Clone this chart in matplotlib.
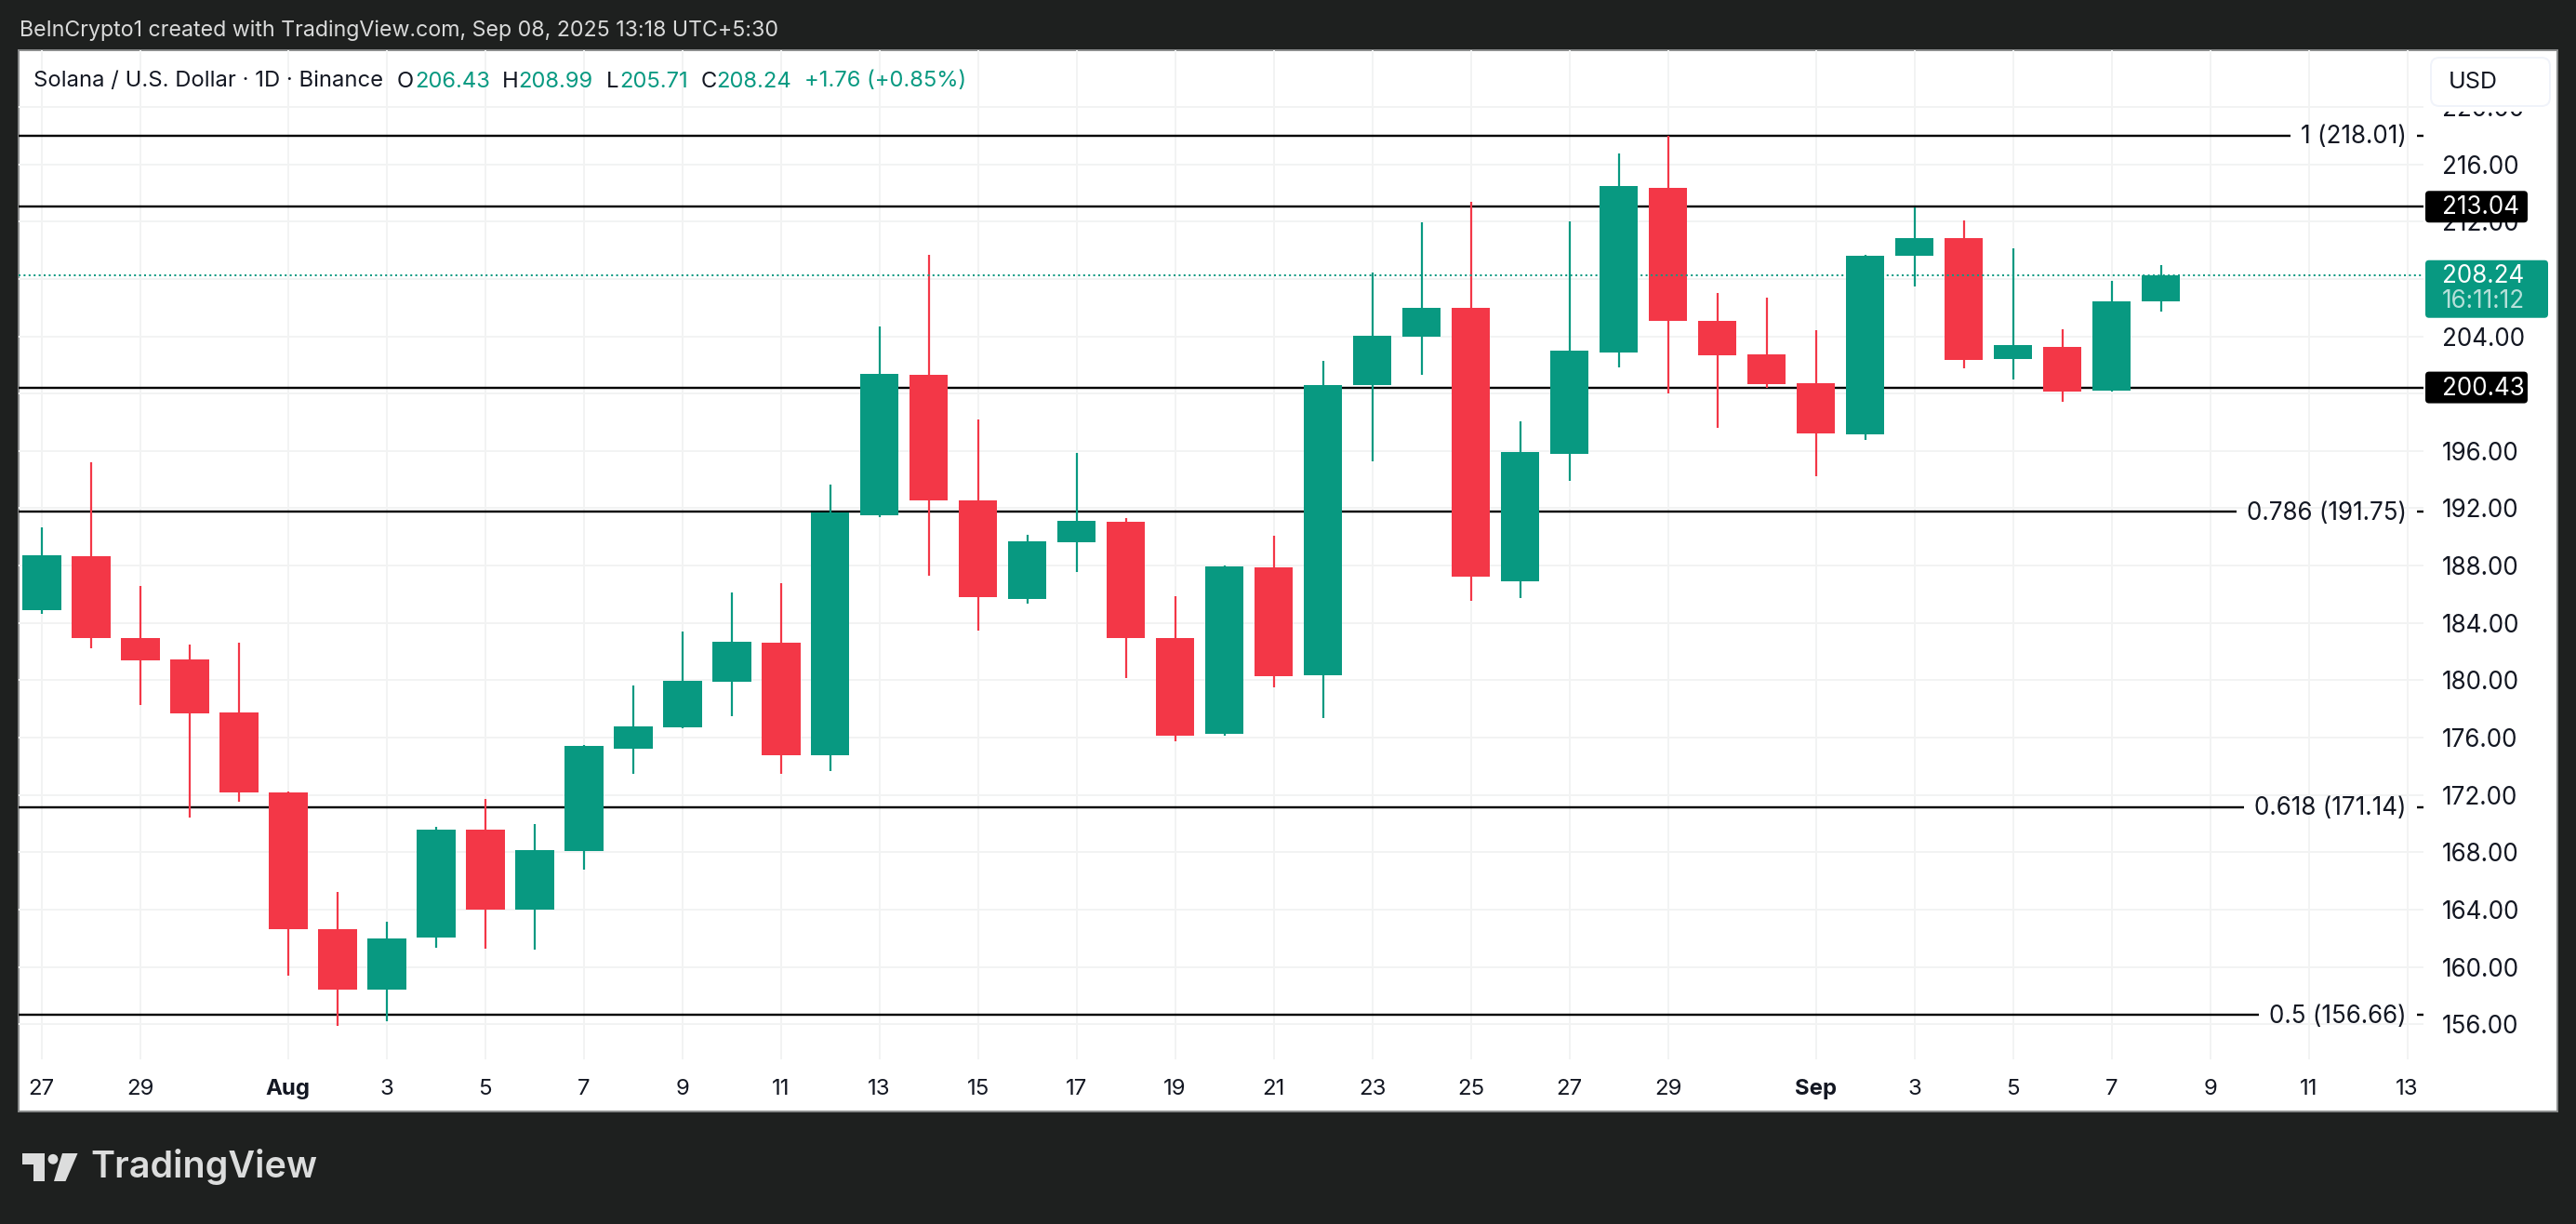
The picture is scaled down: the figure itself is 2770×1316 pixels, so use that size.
import matplotlib
matplotlib.use("Agg")
import matplotlib.pyplot as plt
import matplotlib.dates as mdates
from matplotlib.patches import Rectangle, FancyBboxPatch, Polygon, Circle
import pandas as pd

plt.rcParams['font.family'] = ['Inter', 'DejaVu Sans']

# ---------- data ----------
start_date = '2025-07-27'
opens  = [184.90,188.67,182.96,181.46,177.75,172.18,162.64,158.42,162.05,169.59,163.99,168.10,175.22,176.71,179.89,182.62,
          174.78,191.51,201.30,192.56,185.67,189.63,191.06,182.96,176.26,187.88,180.35,200.60,203.97,205.99,186.91,195.81,
          202.88,214.35,205.08,202.74,200.72,197.15,209.62,210.85,202.41,203.27,200.21,206.43]
highs  = [190.67,195.23,186.59,182.51,182.62,172.23,165.23,163.17,169.79,171.73,169.98,175.50,179.64,183.41,186.14,186.78,
          193.66,204.69,209.67,198.21,190.14,195.87,191.32,185.86,188.00,190.09,202.27,208.43,211.96,213.41,198.08,212.03,
          216.76,217.99,207.03,206.70,204.43,209.69,213.00,212.08,210.13,204.50,207.86,208.99]
lows   = [184.64,182.22,178.28,170.43,171.53,159.40,155.88,156.22,161.34,161.29,161.20,166.80,173.47,176.65,177.50,173.47,
          173.67,191.40,187.29,183.47,185.35,187.56,180.16,175.75,176.12,179.51,177.36,195.28,201.30,185.54,185.73,193.91,
          201.84,200.03,197.62,200.40,194.25,196.78,207.49,201.76,201.00,199.42,200.14,205.71]
closes = [188.73,182.96,181.38,177.69,172.18,162.64,158.42,161.99,169.59,163.99,168.15,175.42,176.79,179.97,182.70,174.80,
          191.70,201.39,192.56,185.81,189.68,191.14,182.96,176.12,187.93,180.29,200.60,204.05,205.99,187.24,195.92,202.99,
          214.49,205.08,202.67,200.68,197.22,209.62,210.85,202.34,203.39,200.14,206.45,208.24]

price_ticks = [156,160,164,168,172,176,180,184,188,192,196,200,204,208,212,216,220]
hidden_price_labels = [200, 208]   # covered by the price tags in the reference
time_tick_dates = ['2025-07-27','2025-07-29','2025-08-01','2025-08-03','2025-08-05','2025-08-07','2025-08-09',
                   '2025-08-11','2025-08-13','2025-08-15','2025-08-17','2025-08-19','2025-08-21','2025-08-23',
                   '2025-08-25','2025-08-27','2025-08-29','2025-09-01','2025-09-03','2025-09-05','2025-09-07',
                   '2025-09-09','2025-09-11','2025-09-13']
time_tick_labels = ['27','29','Aug','3','5','7','9','11','13','15','17','19','21','23','25','27','29','Sep','3','5','7','9','11','13']
bold_labels = ['Aug','Sep']

plain_levels = [213.04, 200.43]
fib_levels = [218.01, 191.75, 171.14, 156.66]
fib_labels = ['1 (218.01)', '0.786 (191.75)', '0.618 (171.14)', '0.5 (156.66)']
last_price = 208.24
countdown = '16:11:12'

# ---------- colours ----------
UP, DOWN = '#089981', '#F33747'
BG, GRID, INK = '#1E201F', '#F2F3F3', '#131722'

W, H = 2770, 1316
fig = plt.figure(figsize=(W/100, H/100), dpi=100, facecolor=BG)
PX = 0.72  # points per pixel
SCALE_FS = 26*PX

def px_axes(z):
    a = fig.add_axes([0, 0, 1, 1], zorder=z)
    a.set_xlim(0, W); a.set_ylim(H, 0); a.axis('off'); a.patch.set_alpha(0)
    return a

under = px_axes(-1)
over = px_axes(1)
under.add_patch(Rectangle((20, 54), 2730, 1141, fc='white', ec='#8A8C8C', lw=1.4))

# main chart pane
L, R, T, B = 20, 2606, 54, 1139
ax = fig.add_axes([L/W, 1-B/H, (R-L)/W, (B-T)/H], zorder=0)
ax.patch.set_alpha(0)
for s in ax.spines.values():
    s.set_visible(False)

x = mdates.date2num(pd.date_range(start_date, periods=len(opens)))
x0 = x[0]
ax.set_xlim(x0 - 0.464, x0 + 48.33)
ax.set_ylim(153.55, 223.96)

ax.set_axisbelow(True)
ax.grid(True, color=GRID, lw=2*PX)
ax.yaxis.tick_right()
ax.set_yticks(price_ticks)
ax.set_yticklabels(['' if p in hidden_price_labels else f'{p:.2f}' for p in price_ticks])
ax.set_xticks(mdates.date2num(pd.to_datetime(time_tick_dates)))
ax.set_xticklabels(time_tick_labels)
ax.tick_params(axis='both', length=0, labelcolor=INK)
ax.tick_params(axis='y', pad=19.5*PX, labelsize=SCALE_FS)
ax.tick_params(axis='x', pad=21*PX, labelsize=24*PX)
for lab in ax.get_xticklabels():
    if lab.get_text() in bold_labels:
        lab.set_fontweight('bold')

# horizontal levels
xmin, xmax = ax.get_xlim()
ax.hlines(plain_levels, xmin, xmax, color='black', lw=2.4*PX, zorder=2)
renderer = fig.canvas.get_renderer()
label_x = x0 + 47.99
for lev, lab in zip(fib_levels, fib_labels):
    t = ax.text(label_x, lev - 0.1, lab, ha='right', va='center', fontsize=SCALE_FS, color=INK, zorder=3)
    bb = t.get_window_extent(renderer)
    inv = ax.transData.inverted()
    left = inv.transform((bb.x0 - 11, 0))[0]
    right = inv.transform((bb.x1 + 11, 0))[0]
    ax.hlines(lev, xmin, left, color='black', lw=2.4*PX, zorder=2)
    ax.hlines(lev, right, xmax, color='black', lw=2.4*PX, zorder=2)

# candles
for xi, o, h, l, c in zip(x, opens, highs, lows, closes):
    col = UP if c >= o else DOWN
    ax.vlines(xi, l, h, color=col, lw=2.2*PX, zorder=4)
    ax.bar(xi, abs(c-o), bottom=min(o, c), width=0.79, color=col, lw=0, zorder=4)

ax.hlines(last_price, xmin, xmax, color=UP, lw=2*PX, linestyles=(0, (1, 1.7)), zorder=5)

# pixel y of a price
def py(p):
    return H - ax.transData.transform((x0, p))[1]

# price labels on the scale
def box(x1, y1, x2, y2, col):
    over.add_patch(FancyBboxPatch((x1, y1), x2-x1, y2-y1, boxstyle='round,pad=0,rounding_size=4',
                                  fc=col, ec='none', mutation_aspect=1))

for lev in plain_levels:
    y = py(lev)
    box(2608, y-17, 2718, y+17, 'black')
    over.text(2625.7, y+1, f'{lev:.2f}', color='white', fontsize=SCALE_FS, va='center', ha='left')

y = py(last_price)
box(2608, y-16.5, 2740, y+45.5, UP)
over.text(2625.7, y+1, f'{last_price:.2f}', color='white', fontsize=SCALE_FS, va='center', ha='left')
over.text(2625.7, y+28, countdown, color='#B5E0D9', fontsize=SCALE_FS, va='center', ha='left')

# USD button
over.add_patch(Rectangle((2606, 55), 143, 65, fc='white', ec='none'))
over.add_patch(FancyBboxPatch((2614, 62), 128, 52, boxstyle='round,pad=0,rounding_size=9',
                              fc='white', ec='#F0F3FA', lw=1.4))
over.text(2633, 88.5, 'USD', color=INK, fontsize=25*PX, va='center', ha='left')

# header text
over.text(21, 33, 'BeInCrypto1 created with TradingView.com, Sep 08, 2025 13:18 UTC+5:30',
          color='#D9DADA', fontsize=23.2*PX, va='center', ha='left')

legend_runs = [(36.5, 'Solana / U.S. Dollar · 1D · Binance', INK),
               (426.5, 'O', INK), (446, '206.43', UP),
               (539.5, 'H', INK), (557, '208.99', UP),
               (652, 'L', INK), (666, '205.71', UP),
               (754, 'C', INK), (770, '208.24', UP),
               (865, '+1.76 (+0.85%)', UP)]
for lx, s, col in legend_runs:
    over.text(lx, 87.5, s, color=col, fontsize=23.8*PX, va='center', ha='left')

# footer logo
LOGO = '#DCDDDD'
over.add_patch(Polygon([(24, 1240), (48, 1240), (48, 1270), (36, 1270), (36, 1252), (24, 1252)], fc=LOGO, ec='none'))
over.add_patch(Circle((57, 1246.3), 5.4, fc=LOGO, ec='none'))
over.add_patch(Polygon([(67, 1240), (83.5, 1240), (70.5, 1270), (58, 1270)], fc=LOGO, ec='none'))
over.text(97, 1255, 'TradingView', color=LOGO, fontsize=39.5*PX, va='center', ha='left', fontweight='semibold')

fig.savefig('out.png', dpi=100, facecolor=BG)
